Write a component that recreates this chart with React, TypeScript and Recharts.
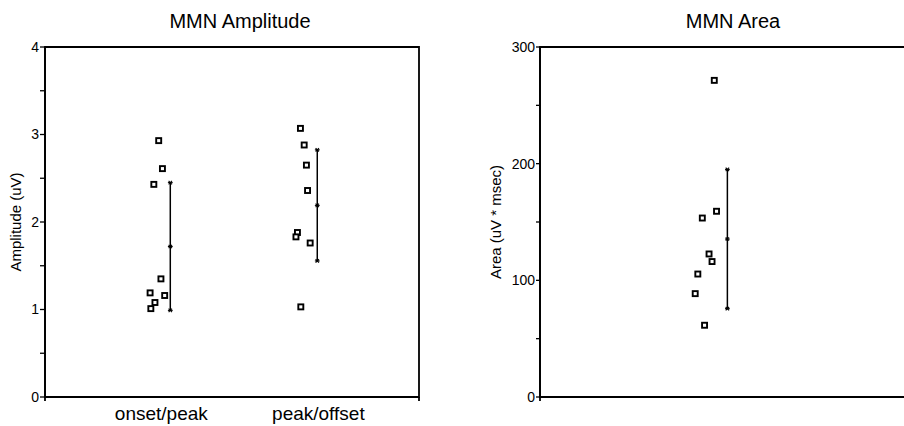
import React from 'react';
import { ScatterChart, Scatter, XAxis, YAxis, ReferenceArea } from 'recharts';

const FONT = '"Liberation Sans", Arial, Helvetica, sans-serif';

// ---- MMN Amplitude data ----
const ampCategories = ['onset/peak', 'peak/offset'];
const ampCategoryPos = [31.1, 73.1];
const onsetPeakAmp = [2.93, 2.61, 2.43, 1.35, 1.19, 1.16, 1.08, 1.01];
const onsetPeakJitter = [30.4, 31.4, 29.1, 31.0, 28.1, 32.0, 29.4, 28.3];
const peakOffsetAmp = [3.07, 2.88, 2.65, 2.36, 1.88, 1.83, 1.76, 1.03];
const peakOffsetJitter = [68.3, 69.3, 69.9, 70.2, 67.5, 67.1, 70.9, 68.4];
const ampMean = [1.72, 2.19];
const ampSD = [0.73, 0.635];
const ampMeanX = [33.5, 72.8];
const ampTicks = [0, 0.5, 1, 1.5, 2, 2.5, 3, 3.5, 4];

// ---- MMN Area data ----
const areaValues = [271.4, 159.2, 153.4, 122.6, 116.1, 105.4, 88.6, 61.5];
const areaJitter = [46.6, 47.2, 43.4, 45.2, 46.0, 42.2, 41.5, 44.0];
const areaMean = 135.4;
const areaSD = 59.7;
const areaMeanX = 50.1;
const areaTicks = [0, 50, 100, 150, 200, 250, 300];

const toPoints = (xs: number[], ys: number[]) => ys.map((y, i) => ({ x: xs[i], y }));
const sdPoints = (x: number, m: number, sd: number) => [
  { x, y: m + sd },
  { x, y: m },
  { x, y: m - sd },
];

const Square = (props: any) => {
  const { cx, cy } = props;
  if (cx == null || cy == null) return null;
  return (
    <rect x={cx - 2.5} y={cy - 2.5} width={5} height={5} fill="#fff" stroke="#000" strokeWidth={1.9} />
  );
};

const Star = (props: any) => {
  const { cx, cy } = props;
  if (cx == null || cy == null) return null;
  const r = 2.4;
  const d = r * 0.7;
  return (
    <g stroke="#000" strokeWidth={1.1}>
      <line x1={cx - r} y1={cy} x2={cx + r} y2={cy} />
      <line x1={cx - d} y1={cy - d} x2={cx + d} y2={cy + d} />
      <line x1={cx - d} y1={cy + d} x2={cx + d} y2={cy - d} />
    </g>
  );
};

const makeXTick = (positions: number[], labels: string[]) => (props: any) => {
  const { x, y, payload } = props;
  const idx = positions.indexOf(payload.value);
  if (idx >= 0) {
    return (
      <text x={x} y={y} dy="0.71em" textAnchor="middle" fontSize={19} fontFamily={FONT} fill="#000">
        {labels[idx]}
      </text>
    );
  }
  return <line x1={x} y1={y - 10} x2={x} y2={y - 6} stroke="#000" strokeWidth={1.8} />;
};

const yTickStyle = { fill: '#000', fontSize: 14, fontFamily: FONT };
const axisLine = { stroke: '#000', strokeWidth: 1.8 };

function AmplitudeChart() {
  return (
    <ScatterChart width={450} height={426} margin={{ top: 47, right: 31, bottom: 0, left: 0 }}>
      <XAxis
        type="number"
        dataKey="x"
        domain={[0, 100]}
        ticks={[0, ...ampCategoryPos, 100]}
        interval={0}
        height={29}
        tickSize={6}
        tickMargin={4}
        tickLine={false}
        axisLine={axisLine}
        tick={makeXTick(ampCategoryPos, ampCategories)}
      />
      <YAxis
        type="number"
        dataKey="y"
        domain={[0, 4]}
        ticks={ampTicks}
        interval={0}
        width={45}
        tickSize={5}
        tickMargin={1}
        axisLine={axisLine}
        tickLine={{ stroke: '#000', strokeWidth: 1.3 }}
        tick={yTickStyle}
        tickFormatter={(v: number) => (Number.isInteger(v) ? String(v) : '')}
        label={{
          value: 'Amplitude (uV)',
          angle: -90,
          position: 'insideLeft',
          offset: 16,
          style: { textAnchor: 'middle', fontSize: 15, fontFamily: FONT, fill: '#000' },
        }}
      />
      <ReferenceArea x1={0} x2={100} y1={0} y2={4} fill="none" fillOpacity={0} stroke="#000" strokeWidth={1.8} />
      <Scatter data={toPoints(onsetPeakJitter, onsetPeakAmp)} shape={Square} isAnimationActive={false} />
      <Scatter data={toPoints(peakOffsetJitter, peakOffsetAmp)} shape={Square} isAnimationActive={false} />
      <Scatter
        data={sdPoints(ampMeanX[0], ampMean[0], ampSD[0])}
        shape={Star}
        line={{ stroke: '#000', strokeWidth: 1.5 }}
        isAnimationActive={false}
      />
      <Scatter
        data={sdPoints(ampMeanX[1], ampMean[1], ampSD[1])}
        shape={Star}
        line={{ stroke: '#000', strokeWidth: 1.5 }}
        isAnimationActive={false}
      />
    </ScatterChart>
  );
}

function AreaChartPanel() {
  return (
    <ScatterChart width={465} height={426} margin={{ top: 47, right: 31, bottom: 0, left: 0 }}>
      <XAxis
        type="number"
        dataKey="x"
        domain={[0, 100]}
        ticks={[0, 100]}
        interval={0}
        height={29}
        tickSize={6}
        tickMargin={4}
        tickLine={false}
        axisLine={axisLine}
        tick={makeXTick([], [])}
      />
      <YAxis
        type="number"
        dataKey="y"
        domain={[0, 300]}
        ticks={areaTicks}
        interval={0}
        width={60}
        tickSize={4}
        tickMargin={1}
        axisLine={axisLine}
        tickLine={{ stroke: '#000', strokeWidth: 1.3 }}
        tick={yTickStyle}
        tickFormatter={(v: number) => (v % 100 === 0 ? String(v) : '')}
        label={{
          value: 'Area (uV * msec)',
          angle: -90,
          position: 'insideLeft',
          offset: 16,
          style: { textAnchor: 'middle', fontSize: 15, fontFamily: FONT, fill: '#000' },
        }}
      />
      <ReferenceArea x1={0} x2={100} y1={0} y2={300} fill="none" fillOpacity={0} stroke="#000" strokeWidth={1.8} />
      <Scatter data={toPoints(areaJitter, areaValues)} shape={Square} isAnimationActive={false} />
      <Scatter
        data={sdPoints(areaMeanX, areaMean, areaSD)}
        shape={Star}
        line={{ stroke: '#000', strokeWidth: 1.5 }}
        isAnimationActive={false}
      />
    </ScatterChart>
  );
}

export default function App() {
  return (
    <div
      style={{
        position: 'absolute',
        left: 0,
        top: 0,
        width: 904,
        height: 426,
        overflow: 'hidden',
        background: '#fff',
        fontFamily: FONT,
      }}
    >
      <div style={{ position: 'absolute', left: 0, top: 0 }}>
        <AmplitudeChart />
      </div>
      <div style={{ position: 'absolute', left: 480, top: 0 }}>
        <AreaChartPanel />
      </div>
      <svg
        width={904}
        height={426}
        style={{ position: 'absolute', left: 0, top: 0, pointerEvents: 'none' }}
      >
        <text x={240} y={28} textAnchor="middle" fontSize={20} fontFamily={FONT} fill="#000">
          MMN Amplitude
        </text>
        <text x={733} y={28} textAnchor="middle" fontSize={20} fontFamily={FONT} fill="#000">
          MMN Area
        </text>
      </svg>
    </div>
  );
}
